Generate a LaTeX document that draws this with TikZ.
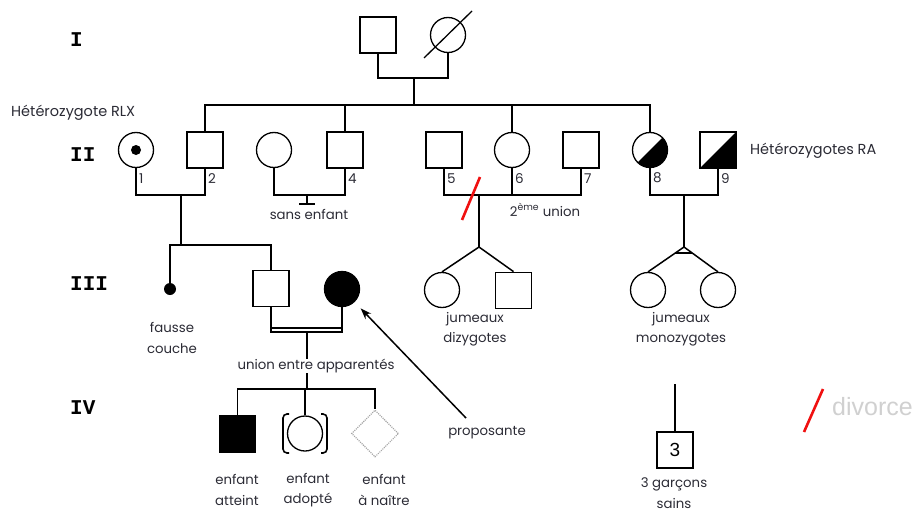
\documentclass[tikz,border=0pt]{standalone}
\usepackage{fontspec}
\setmainfont{Poppins}
\newfontfamily\monob{Liberation Mono}
\newfontfamily\arialf{Liberation Sans}
\usetikzlibrary{shapes.geometric,arrows.meta,calc}
\definecolor{txt}{HTML}{2B2B35}
\definecolor{divred}{HTML}{F01010}
\definecolor{ghost}{HTML}{D0D0D0}
\begin{document}
\begin{tikzpicture}[x=1pt,y=-1pt,
  male/.style={draw, rectangle, line width=1.8pt, minimum size=36pt, inner sep=0pt},
  female/.style={draw, circle, line width=1.3pt, minimum size=35pt, inner sep=0pt},
  link/.style={line width=1.5pt},
  lbl/.style={font=\fontsize{13.3}{20.5}\selectfont, text=txt, align=center, inner sep=1pt},
  num/.style={font=\fontsize{13.5}{13.5}\selectfont, text=txt, anchor=west, inner sep=0pt},
  gen/.style={font=\monob\bfseries\fontsize{21}{21}\selectfont, anchor=west, inner sep=0pt},
  slashred/.style={line width=2.6pt, draw=divred}
]
\useasboundingbox (0,0) rectangle (915,511);

% generation labels
\node[gen] (gI) at (70,40) {I};
\node[gen] (gII) at (70,155) {II};
\node[gen] (gIII) at (70,284) {III};
\node[gen] (gIV) at (70,408) {IV};

% generation I
\node[male] (i1) at (378,35) {};
\node[female] (i2) at (448,35) {};
\draw[line width=1.3pt] ($(i2)+(-24,23)$) -- ($(i2)+(24,-24)$);
\coordinate (u1) at (414,78);
\coordinate (sib) at (414,105);
\draw[link] (i1.south) |- (u1) -| (i2.south);
\draw[link] (u1) -- (sib);

% generation II
\node[female] (ii1) at (136,150) {};
\fill (ii1) circle (5);
\node[male] (ii2) at (205,150) {};
\node[female] (ii3) at (274,150) {};
\node[male] (ii4) at (345,150) {};
\node[male] (ii5) at (444,150) {};
\node[female] (ii6) at (512,150) {};
\node[male] (ii7) at (581,150) {};
\begin{scope}
  \clip (650,150) circle (17.5);
  \fill (615,185) -- (685,185) -- (685,115) -- cycle;
\end{scope}
\node[female] (ii8) at (650,150) {};
\fill (700,168) -- (736,168) -- (736,132) -- cycle;
\node[male] (ii9) at (718,150) {};

\draw[link] (ii2.north) |- (sib) -| (ii8.north);
\draw[link] (ii4.north) -- (ii4.north |- sib);
\draw[link] (ii6.north) -- (ii6.north |- sib);

\foreach \n/\t in {ii1/1,ii2/2,ii4/4,ii5/5,ii6/6,ii7/7,ii8/8,ii9/9}
  \node[num] at ($(\n.south)+(3,10)$) {\t};

\node[lbl, anchor=west, font=\fontsize{14.5}{16}\selectfont] (hrlx) at (10,113) {Hétérozygote RLX};
\node[lbl, anchor=west, font=\fontsize{14.5}{16}\selectfont] (hra) at (749,151) {Hétérozygotes RA};

% unions generation II
\coordinate (m12) at (181,195);
\draw[link] (ii1.south) |- (m12) -| (ii2.south);
\coordinate (m34) at (307,195);
\draw[link] (ii3.south) |- (m34) -| (ii4.south);
\coordinate (nc) at (307,204);
\draw[link] (m34) -- (nc);
\draw[line width=2.4pt] ($(nc)+(-8,0)$) -- ($(nc)+(8,0)$);
\node[lbl] (se) at (309,214) {sans enfant};

\coordinate (m56) at (479,195);
\draw[link] (ii5.south) |- (m56) -| (ii7.south);
\draw[link] (ii6.south) -- (ii6.south |- m56);
\draw[slashred] (462,220) -- (480,177);
\node[lbl] (u2) at (545,210) {2\textsuperscript{ème} union};

\coordinate (m89) at (684,195);
\draw[link] (ii8.south) |- (m89) -| (ii9.south);

% generation III
\coordinate (s3) at (181,245);
\draw[link] (m12) -- (s3);
\node[circle, fill, minimum size=12pt, inner sep=0pt] (fc) at (170,289) {};
\node[male] (iii1) at (271,288.5) {};
\node[female, fill] (iii2) at (342,289) {};
\draw[link] (fc.north) |- (s3) -| (iii1.north);
\node[lbl] (fcl) at (172,338) {fausse\\couche};

% dizygotic twins
\coordinate (tw1) at (479,247);
\draw[link] (m56) -- (tw1);
\node[female] (t1) at (442,290) {};
\node[male] (t2) at (513.5,290.5) {};
\draw[link] (tw1) -- (t1.north);
\draw[link] (tw1) -- (t2.north);
\node[lbl] (dzl) at (475,329) {jumeaux\\dizygotes};

% monozygotic twins
\coordinate (tw2) at (684,247);
\draw[link] (m89) -- (tw2);
\node[female] (t3) at (648,290) {};
\node[female] (t4) at (718,290) {};
\draw[link] (tw2) -- (t3.north);
\draw[link] (tw2) -- (t4.north);
\draw[link] ($(tw2)!0.24!(t3.north)$) -- ($(tw2)!0.24!(t4.north)$);
\node[lbl] (mzl) at (681,329) {jumeaux\\monozygotes};

% consanguineous union
\coordinate (cu) at (307,332);
\draw[line width=1.3pt] (iii1.south) |- (cu) -| (iii2.south);
\draw[line width=2pt] ($(iii1.south |- cu)+(0,-4.5)$) -- ($(iii2.south |- cu)+(0,-4.5)$);
\coordinate (s4) at (307,389);
\draw[link] (cu) -- (s4);
\node[lbl, fill=white, inner sep=0.5pt] (uea) at (316,366) {union entre apparentés};

% generation IV
\node[male, fill] (iv1) at (237.5,434) {};
\node[female] (iv2) at (305,433.5) {};
\node[diamond, draw=gray!70, densely dotted, line width=1.1pt, minimum width=47pt, minimum height=47pt, inner sep=0pt] (iv3) at (375,433.5) {};
\draw[link] (iv1.north) |- (s4) -| (iv3.north);
\draw[link] (iv2.north) -- (iv2.north |- s4);
\draw[line width=1.6pt, rounded corners=4pt] ($(iv2)+(-16,-19.5)$) -- ($(iv2)+(-22,-19.5)$) -- ($(iv2)+(-22,19.5)$) -- ($(iv2)+(-16,19.5)$);
\draw[line width=1.6pt, rounded corners=4pt] ($(iv2)+(16,-19.5)$) -- ($(iv2)+(22,-19.5)$) -- ($(iv2)+(22,19.5)$) -- ($(iv2)+(16,19.5)$);
\node[lbl] (l1) at (237,490) {enfant\\atteint};
\node[lbl] (l2) at (308,490) {enfant\\adopté};
\node[lbl] (l3) at (384,490) {enfant\\à naître};

% proposante
\coordinate (pa) at (466,418);
\draw[link, -{Stealth[length=11pt,width=8pt]}, shorten >=27pt] (pa) -- (iii2.center);
\node[lbl] (prop) at (487,433) {proposante};

% 3 garcons
\coordinate (g3t) at (675,384);
\node[male, font=\arialf\fontsize{19}{19}\selectfont] (g3) at (675,450) {3};
\draw[line width=1.2pt] (g3t) -- (g3.north);
\node[lbl] (g3l) at (674,493) {3 garçons\\sains};

% divorce legend
\draw[slashred] (804,432) -- (823,389);
\node[font=\arialf\fontsize{25}{25}\selectfont, text=ghost, anchor=west, inner sep=0pt] (div) at (832,407) {divorce};
\end{tikzpicture}
\end{document}
